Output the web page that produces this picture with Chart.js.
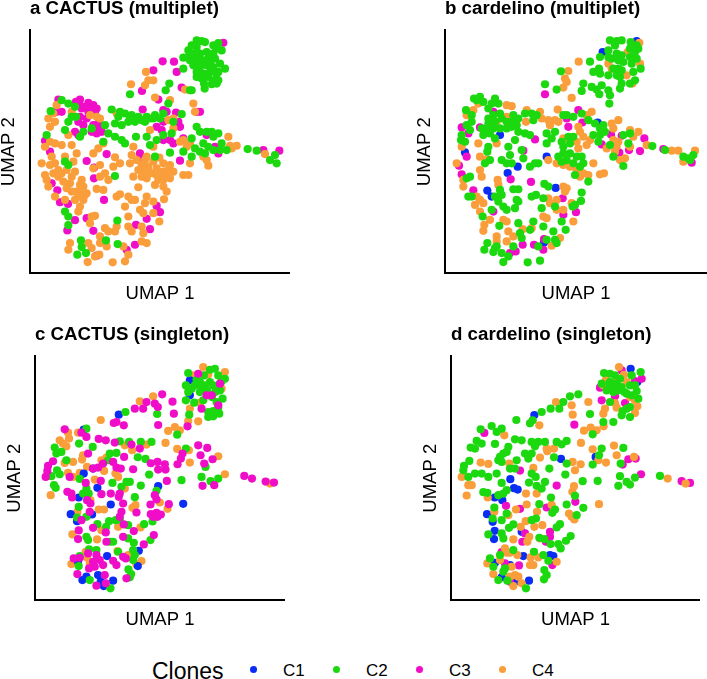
<!DOCTYPE html>
<html>
<head>
<meta charset="utf-8">
<script src="https://cdn.jsdelivr.net/npm/chart.js@4"></script>
<style>
    html, body { margin: 0; padding: 0; background: #fff; overflow: hidden; }
    body { position: relative; width: 707px; height: 679px; font-family: "Liberation Sans", Arial, sans-serif; color: #000; }
    canvas { position: absolute; }
    .leg { position: absolute; white-space: nowrap; }
    .dot { position: absolute; width: 7.4px; height: 7.4px; border-radius: 50%; }
</style>
</head>
<body>
<canvas id="chartA" width="292" height="307" style="left:-2px;top:-2px"></canvas>
<canvas id="chartB" width="293" height="307" style="left:414px;top:-2px"></canvas>
<canvas id="chartC" width="281" height="307" style="left:4px;top:324px"></canvas>
<canvas id="chartD" width="280" height="307" style="left:420px;top:324px"></canvas>
<div id="legend"></div>
<script>
// all values, in arbitrary UMAP units
const clones = ["C1", "C2", "C3", "C4"];
const cloneColors = { C1: "#0A2DF5", C2: "#1CD90F", C3: "#F00DC8", C4: "#FA9E3C" };

const aC2 = [[500,700],[515,698],[525,695],[485,685],[500,680],[550,685],[565,692],[560,675],[475,670],[490,660],[460,648],[510,660],[530,665],[550,660],[575,670],[480,640],[500,645],[515,640],[535,645],[555,645],[570,630],[585,615],[490,625],[510,620],[530,625],[550,620],[500,605],[520,600],[540,605],[565,605],[515,585],[535,590],[550,580],[565,580],[560,570],[545,568],[522,570],[524,555],[460,615],[485,550],[495,660],[505,635],[525,640],[540,630],[500,590],[480,655],[560,600],
[418,570],[407,550],[300,538],[62,487],[95,520],[115,510],[135,500],[125,470],[138,470],[105,430],[115,455],[50,415],[150,410],[160,425],[185,435],[225,445],
[245,492],[270,485],[285,480],[305,475],[325,470],[350,470],[375,475],[255,450],[275,445],[295,455],[315,455],[335,460],[360,465],[390,465],[415,510],[400,480],[235,420],[255,410],[275,400],[285,390],[220,395],[318,410],[350,410],[265,470],[300,465],[345,455],[370,465],
[455,478],[430,455],[425,420],[400,415],[380,400],[360,385],[375,350],[420,362],[460,365],[485,350],[495,375],[485,405],[500,440],[510,425],[530,425],[545,425],[565,420],[550,410],[520,390],[535,380],[510,365],[525,360],[550,370],[575,390],[570,370],[590,370],[480,550],[653,373],[680,368],[720,340],[735,355],[740,330],[255,292],[105,335],[115,325],[105,185],[115,170],[115,144],[262,158],[153,98],[155,78],[142,55],[168,60],[228,98],[263,87]];
const aC3 = [[398,637],[432,636],[580,693],[370,610],[440,605],[336,548],[455,558],[385,522],[85,522],[95,485],[80,485],[150,522],[138,515],[175,512],[190,505],[200,495],[155,495],[175,485],[145,455],[160,445],[205,450],[210,435],[185,425],[135,425],[145,415],[200,420],[45,398],[60,365],[150,505],[165,500],[180,495],[195,480],[150,470],[170,465],[190,445],[215,425],
[338,492],[510,485],[500,485],[400,490],[410,485],[438,483],[380,440],[400,455],[445,455],[450,440],[395,430],[430,390],[400,400],[420,400],[460,405],[530,415],[565,360],[555,380],[330,360],[340,340],[230,358],[170,337],[192,317],[192,285],[450,338],[700,370],[748,368],
[65,270],[82,249],[90,213],[114,208],[222,220],[135,159],[170,165],[112,128],[190,127],[390,183],[380,202],[350,163],[360,132],[318,145],[315,85],[290,70],[200,52]];
const aC4 = [[348,605],[370,580],[355,580],[303,568],[345,565],[375,528],[420,520],[465,552],[490,510],[495,485],[80,505],[70,480],[55,465],[75,455],[60,440],[125,485],[115,415],[45,380],[60,395],[75,390],[95,385],[125,385],[35,330],[65,350],[60,325],[75,330],[105,350],[130,335],[140,360],[45,295],[50,280],[70,300],[95,300],[110,310],[135,305],[100,275],[125,290],[55,260],[110,255],[125,245],[155,280],[160,260],[170,240],[145,230],[160,220],[135,220],[150,200],[145,185],[75,230],[105,220],[200,253],[220,250],[185,170],[180,150],[195,172],[210,290],[225,300],[235,280],[190,315],[210,325],[190,360],[205,375],[220,390],[255,348],[270,330],[250,320],[260,230],[270,237],[295,230],[305,220],[315,220],[285,200],[295,170],[350,230],[345,210],[330,190],[340,180],[370,215],[370,180],[402,222],[388,155],[335,140],[340,120],[335,95],[350,90],[295,140],[305,125],[260,140],[255,125],[225,135],[235,125],[210,110],[210,90],[230,80],[175,90],[185,75],[120,90],[115,70],[280,80],[295,55],[285,35],[248,32],[173,33],[195,50],[208,55],[150,240],[165,235],[140,245],[120,270],[150,265],[85,290],[85,310],
[335,325],[355,320],[340,305],[360,300],[380,315],[400,330],[420,325],[390,300],[410,300],[430,305],[400,280],[420,285],[385,280],[350,285],[335,290],[305,355],[320,340],[300,330],[310,290],[325,258],[400,260],[410,245],[460,295],[475,295],[480,330],[530,340],[535,323],[520,350],[620,383],[600,383],[605,375],[595,410],[705,358],[415,460],[430,465],[430,435],[360,430],[370,380],[450,395],[470,380],[480,390],[180,475],[200,470],[210,465],[260,480],[310,380],[350,350],[388,347],[460,400],[345,340],[370,335],[370,300],[400,305],[415,310],[380,295],[395,285],[375,265],[345,300],[325,310]];

const bC1 = [[575,698],[473,665],[165,415],[60,363],[305,350],[218,320],[188,301],[332,256],[127,248],[140,230],[458,453],[297,92]];
const bC2 = [[495,700],[515,698],[530,700],[557,695],[575,685],[510,685],[490,670],[465,650],[515,660],[530,655],[555,675],[570,665],[580,675],[555,650],[575,645],[490,650],[500,645],[520,640],[535,635],[560,630],[587,615],[520,615],[530,610],[505,615],[490,595],[515,595],[525,590],[530,570],[525,555],[570,580],[555,570],[565,605],[435,636],[462,615],[445,605],[465,600],[440,560],[455,552],[463,538],[470,565],[490,550],[495,535],[348,607],[300,568],[335,552],[415,570],[410,548],[493,510],
[87,525],[105,530],[115,515],[95,520],[150,525],[140,510],[160,510],[130,495],[63,490],[80,475],[65,445],[80,455],[130,465],[145,475],[165,480],[170,465],[205,475],[220,465],[215,445],[200,440],[185,435],[165,435],[145,435],[125,435],[110,435],[115,415],[135,420],[150,405],[50,415],[48,400],[60,395],[130,380],[127,365],[185,455],[150,455],[130,450],[200,455],[75,430],
[240,480],[260,480],[275,475],[265,460],[220,425],[240,420],[210,400],[255,415],[190,380],[195,355],[230,370],[235,345],[270,330],[280,330],[255,320],[170,340],[185,330],[200,330],[120,330],[135,340],[355,475],[365,475],[385,470],[410,480],[430,460],[450,450],[475,445],[305,420],[330,425],[320,405],[305,390],[355,380],[375,390],[355,360],[375,360],[340,350],[365,340],[385,330],[405,320],[390,295],[415,330],[430,275],[465,435],[465,415],[480,425],[445,415],[460,395],[495,385],[505,350],[535,415],[555,420],[535,322],[550,390],[622,382],[660,370],[715,350],[730,345],[745,355],[735,340],[370,410],[350,395],[385,410],[410,350],[395,350],[350,335],
[65,285],[75,290],[80,230],[70,230],[165,250],[170,235],[150,230],[160,215],[175,200],[185,190],[205,252],[220,252],[260,230],[273,235],[215,220],[220,215],[210,195],[298,268],[310,260],[295,225],[290,195],[330,200],[350,155],[362,130],[383,200],[390,205],[408,217],[410,242],[220,150],[163,142],[140,190],[113,170],[295,140],[265,155],[255,130],[325,125],[330,100],[335,90],[127,90],[118,70],[150,75],[155,80],[145,63],[170,60],[190,50],[175,33],[248,32],[285,37],[230,105],[225,120],[205,80],[280,80],[305,100]];
const bC3 = [[300,538],[400,490],[365,465],[370,440],[412,453],[50,438],[70,420],[105,438],[270,402],[235,368],[65,350],[42,323],[50,297],[258,274],[197,282],[85,249],[145,185],[353,225],[393,183],[355,175],[498,417],[530,413],[598,405],[470,387],[523,362],[552,370],[585,367],[655,373],[740,332],[297,102],[267,85],[233,85],[212,65],[295,70],[195,60],[145,485]];
const bC4 = [[401,636],[370,608],[360,585],[365,575],[355,558],[583,693],[548,665],[490,630],[500,615],[585,630],[545,595],[562,570],[380,527],[520,460],[100,510],[85,490],[65,475],[185,505],[200,502],[185,470],[155,455],[245,490],[243,455],[285,485],[338,492],[290,465],[310,460],[330,460],[315,445],[340,455],[440,485],[425,475],[405,425],[400,440],[415,410],[355,405],[395,395],[435,400],[425,385],[400,375],[500,450],[505,435],[555,430],[580,425],[565,410],[505,400],[520,395],[485,375],[515,380],[525,340],[540,345],[510,365],[555,380],[605,385],[680,368],[700,368],[750,368],[715,335],
[50,380],[100,390],[155,390],[35,330],[105,350],[125,342],[105,310],[110,290],[55,280],[55,260],[105,220],[95,230],[115,210],[90,205],[105,185],[158,280],[160,265],[135,160],[118,145],[115,127],[175,160],[185,155],[190,125],[155,110],[155,95],[185,95],[205,110],[233,132],[260,135],[295,170],[305,165],[335,190],[355,190],[380,210],[335,220],[310,225],[315,210],[345,105],[320,82],[385,155],
[310,340],[335,330],[355,325],[375,320],[395,310],[415,300],[430,295],[405,290],[355,260],[365,255],[360,245],[445,330],[465,297],[477,300]];

const cC1 = [[464,660],[464,615],[251,557],[146,512],[146,380],[187,337],[131,308],[369,342],[227,287],[444,289],[107,258],[171,257],[126,237],[311,148],[216,132],[308,102],[142,60],[154,70],[189,75],[197,55],[206,42],[234,58],[129,115],[174,395]];
const cC2 = [[459,682],[506,675],[539,695],[524,692],[549,675],[569,665],[559,657],[484,662],[494,655],[479,645],[509,645],[524,655],[534,645],[452,645],[459,625],[469,635],[494,625],[554,630],[562,605],[544,595],[549,578],[534,568],[519,565],[519,550],[534,552],[552,560],[477,593],[452,600],[504,600],[490,650],[500,640],[515,630],[540,625],[530,610],[545,640],
[271,565],[366,559],[462,557],[426,497],[154,515],[59,458],[64,440],[79,445],[132,470],[173,460],[254,477],[282,475],[317,475],[349,475],[224,440],[244,442],[219,420],[308,429],[331,424],[94,420],[66,390],[49,372],[74,378],[57,345],[62,337],[134,364],[154,335],[161,320],[144,320],[232,352],[274,355],[284,355],[259,340],[317,344],[342,377],[364,328],[299,309],[452,455],[511,400],[499,370],[526,357],[549,365],[439,360],
[131,280],[126,248],[154,250],[187,228],[222,237],[242,240],[254,242],[352,236],[327,228],[213,220],[279,225],[154,190],[159,180],[224,175],[234,175],[279,185],[296,172],[346,180],[294,150],[299,135],[294,120],[162,152],[184,150],[134,132],[131,102],[249,145],[280,92],[288,78],[284,68],[164,60],[226,35]];
const cC3 = [[381,618],[412,596],[359,590],[334,595],[324,575],[299,575],[368,580],[416,560],[244,535],[236,532],[266,525],[369,526],[457,522],[89,513],[139,503],[154,490],[191,484],[212,480],[239,473],[289,467],[314,455],[489,465],[516,457],[442,440],[437,425],[496,435],[532,423],[427,408],[507,410],[267,430],[347,411],[367,415],[389,408],[369,392],[391,392],[294,393],[234,415],[244,398],[257,395],[174,395],[189,398],[204,410],[159,440],[54,417],[39,403],[37,388],[32,370],[104,370],[152,352],[197,358],[199,318],[227,320],[254,320],[251,310],[97,325],[109,320],[111,308],[156,300],[166,290],[264,290],[304,263],[346,287],[359,315],[364,302],[401,288],[259,265],[254,250],[164,265],[139,240],[367,250],[377,257],[354,250],[364,262],[347,258],[395,358],[502,343],[537,345],[627,373],[650,365],[691,356],[716,353],
[174,217],[131,209],[129,183],[266,227],[296,207],[212,203],[214,175],[264,190],[356,195],[326,167],[116,125],[134,127],[127,78],[159,140],[184,135],[194,120],[174,115],[162,95],[179,100],[204,105],[234,118],[244,105],[264,130],[272,125],[209,75],[184,43],[212,50],[274,65],[489,680],[514,615],[529,615],[549,585],[499,575],[554,650]];
const cC4 = [[354,612],[314,597],[197,541],[504,700],[519,678],[569,685],[474,675],[559,635],[494,593],[464,575],[459,538],[489,537],[419,520],[434,510],[399,508],[391,472],[426,454],[464,413],[461,450],[549,432],[569,378],[704,350],[99,503],[129,503],[74,480],[84,470],[94,462],[102,485],[269,465],[291,450],[334,467],[214,428],[199,420],[144,435],[141,422],[156,400],[89,412],[114,415],[99,382],[114,370],[134,382],[207,388],[241,380],[249,370],[179,362],[47,315],[269,335],[374,293],[397,274],[301,285],[292,277],[191,272],[207,272],[127,265],[166,300],[316,218],[249,220],[112,197],[186,182],[247,147],[152,145],[156,128],[109,108],[164,110],[279,135],[319,117],[304,107],[199,210]];

const dC1 = [[539,695],[559,655],[250,556],[330,424],[434,430],[178,363],[189,336],[200,332],[131,308],[154,300],[108,258],[125,235],[131,208],[129,183],[212,205],[217,132],[297,135],[307,132],[152,68],[197,57],[234,58],[177,105],[132,112]];
const dC2 = [[459,682],[477,680],[492,675],[507,665],[542,675],[569,685],[452,650],[477,655],[497,650],[512,640],[482,640],[467,630],[487,625],[537,645],[552,645],[557,628],[527,620],[542,615],[562,605],[477,595],[537,580],[527,575],[515,568],[512,555],[537,550],[457,535],[487,535],[417,559],[425,498],[490,640],[500,630],[475,650],[520,625],
[382,618],[357,612],[337,595],[325,575],[299,575],[272,565],[196,541],[245,540],[237,531],[89,513],[122,523],[152,515],[137,505],[192,483],[212,480],[77,478],[59,458],[72,455],[92,470],[132,469],[172,460],[242,475],[262,475],[282,475],[252,462],[317,475],[332,468],[347,478],[452,455],[517,457],[444,435],[55,418],[39,403],[37,390],[52,370],[72,380],[92,380],[112,370],[137,380],[142,420],[157,440],[147,430],[152,415],[167,445],[192,395],[177,395],[197,420],[222,440],[242,440],[232,425],[309,429],[347,410],[295,395],[242,380],[254,370],[152,352],[234,353],[257,343],[282,355],[272,335],[343,377],[395,357],[425,407],[440,358],[509,410],[507,372],[502,343],[527,355],[537,347],[552,368],[627,373],
[97,324],[109,322],[167,330],[157,320],[142,315],[130,278],[125,245],[167,260],[152,240],[300,308],[265,288],[347,287],[312,272],[304,262],[397,277],[372,313],[377,255],[255,245],[242,240],[327,228],[317,218],[187,227],[174,217],[112,197],[157,185],[152,200],[265,187],[280,183],[299,168],[359,192],[345,178],[322,168],[329,155],[249,145],[187,150],[147,135],[277,135],[292,118],[117,125],[127,100],[162,95],[157,85],[142,60],[169,58],[225,35],[280,90],[287,75],[279,62]];
const dC3 = [[447,638],[452,600],[492,612],[522,592],[552,658],[572,665],[100,502],[370,527],[532,423],[554,425],[515,407],[570,378],[692,357],[717,352],[207,389],[317,344],[373,295],[287,278],[207,274],[165,283],[222,200],[297,205],[297,190],[214,175],[285,175],[152,144],[162,110],[204,104],[304,105],[177,55],[512,690]];
const dC4 = [[504,700],[519,677],[465,662],[497,660],[527,655],[457,645],[537,610],[552,600],[559,582],[552,562],[497,578],[492,592],[412,595],[315,595],[362,585],[462,575],[457,560],[265,525],[365,557],[419,518],[437,510],[399,509],[458,522],[160,495],[390,472],[309,455],[287,455],[289,447],[267,428],[425,453],[489,464],[497,435],[549,430],[465,413],[442,420],[365,415],[389,408],[372,390],[247,397],[175,410],[89,413],[112,409],[32,370],[52,345],[62,345],[47,314],[110,308],[225,320],[257,320],[369,342],[364,325],[444,288],[227,287],[302,286],[195,272],[258,265],[172,255],[130,265],[354,260],[370,242],[362,250],[224,237],[250,220],[274,225],[209,220],[187,182],[235,190],[229,175],[267,185],[162,155],[167,142],[199,135],[177,142],[109,110],[147,120],[182,100],[239,128],[262,128],[237,105],[247,105],[127,78],[177,70],[192,75],[202,70],[212,50],[187,42],[317,115],[650,365],[704,350]];

// first clone listed is drawn on top
function makePanel(id, title, series, xMax, yMax, yAxisWidth, xAxisHeight) {
    new Chart(document.getElementById(id), {
        type: "scatter",
        data: {
            datasets: series.map(([name, values]) => ({
                label: name,
                data: values.map(([x, y]) => ({ x, y })),
                backgroundColor: cloneColors[name],
                borderWidth: 0,
                pointRadius: 4.1,
                clip: false,
            })),
        },
        options: {
            responsive: false,
            animation: false,
            layout: { padding: 0, autoPadding: false },
            plugins: {
                legend: { display: false },
                tooltip: { enabled: false },
                title: {
                    display: true,
                    text: title,
                    align: "start",
                    fullSize: false,
                    color: "#000",
                    font: { family: "'Liberation Sans'", size: 18.7, weight: "bold" },
                    padding: { top: 0, bottom: 10 },
                },
            },
            scales: {
                x: {
                    min: 0,
                    max: xMax,
                    grid: { display: false },
                    border: { color: "#000", width: 2 },
                    ticks: { display: false },
                    title: { display: true, text: "UMAP 1", color: "#000", font: { family: "'Liberation Sans'", size: 18.5 }, padding: 0 },
                    afterFit: (axis) => { axis.height = xAxisHeight; },
                },
                y: {
                    min: 0,
                    max: yMax,
                    grid: { display: false },
                    border: { color: "#000", width: 2 },
                    ticks: { display: false },
                    title: { display: true, text: "UMAP 2", color: "#000", font: { family: "'Liberation Sans'", size: 18.5 }, padding: 0 },
                    afterFit: (axis) => { axis.width = yAxisWidth; },
                },
            },
        },
    });
}

makePanel("chartA", "a CACTUS (multiplet)", [["C2", aC2], ["C4", aC4], ["C3", aC3]], 780, 730, 32, 32);
makePanel("chartB", "b cardelino (multiplet)", [["C2", bC2], ["C4", bC4], ["C3", bC3], ["C1", bC1]], 786, 730, 31, 32);
makePanel("chartC", "c CACTUS (singleton)", [["C3", cC3], ["C2", cC2], ["C1", cC1], ["C4", cC4]], 749, 732, 31, 31);
makePanel("chartD", "d cardelino (singleton)", [["C2", dC2], ["C4", dC4], ["C3", dC3], ["C1", dC1]], 747, 732, 31, 31);

// legend row along the bottom
const legend = document.getElementById("legend");
legend.innerHTML = `<span class="leg" style="left:152px;top:658px;font-size:23px">Clones</span>` +
    clones.map((name, i) => {
        let x = 249.5 + i * 83;
        return `<span class="dot" style="left:${x}px;top:666px;background:${cloneColors[name]}"></span>` +
            `<span class="leg" style="left:${x + 33.5}px;top:661px;font-size:17px">${name}</span>`;
    }).join("");
</script>
</body>
</html>
